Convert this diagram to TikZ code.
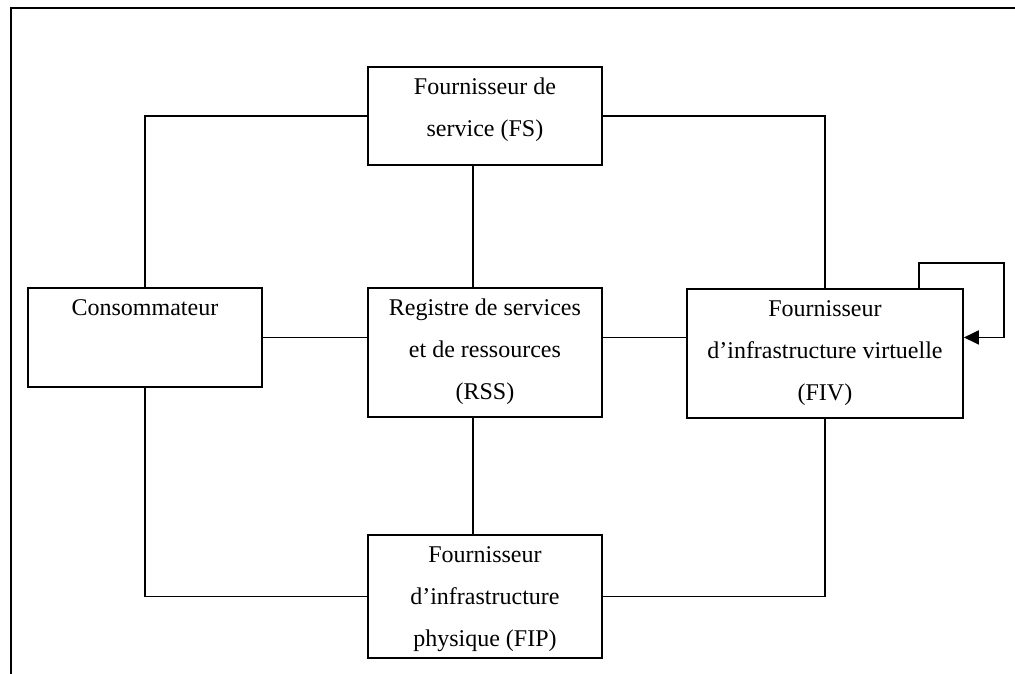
\documentclass[tikz,border=0pt]{standalone}
\usepackage{fontspec}
\setmainfont{Liberation Serif}
\usetikzlibrary{arrows.meta}

% text block of a box: lines set from the top, centred
\newcommand\boxlines[3]{\parbox[c][#2][t]{#1}{\centering\rule{0pt}{28pt}#3}}

\begin{document}
\begin{tikzpicture}[x=1pt,y=-1pt,
  font=\fontsize{24}{42}\selectfont,
  entity/.style={draw, line width=1.9pt, inner sep=0pt, anchor=north west},
  link/.style={draw, line width=1.9pt},
  frame/.style={draw, line width=2.2pt}]
\useasboundingbox (0,0) rectangle (1015,674);

% page frame: left and top rules
\draw[frame] (11,674) -- (11,8) -- (1015,8);

% actors
\node[entity] (fs)   at (367,66)  {\boxlines{234pt}{98pt}{Fournisseur de\\service (FS)}};
\node[entity] (cons) at (27,287)  {\boxlines{234pt}{99pt}{Consommateur}};
\node[entity] (rss)  at (367,287) {\boxlines{234pt}{129pt}{Registre de services\\et de ressources\\(RSS)}};
\node[entity] (fiv)  at (686,288) {\boxlines{276pt}{129pt}{Fournisseur\\d’infrastructure virtuelle\\(FIV)}};
\node[entity] (fip)  at (367,534) {\boxlines{234pt}{123pt}{Fournisseur\\d’infrastructure\\physique (FIP)}};

% helper coordinates for the central spine and the self loop
\coordinate (spine) at (473.3,0);
\coordinate (loopstart) at (919,0);
\coordinate (loopcorner) at (1004.3,262.7);

% links
\draw[link] (fs.west) -| (cons.north);
\draw[link] (fs.east) -| (fiv.north);
\draw[link] (fs.south -| spine) -- (rss.north -| spine);
\draw[link] (rss.south -| spine) -- (fip.north -| spine);
\draw[link] (cons.east) -- (cons.east -| rss.west);
\draw[link] (cons.east -| rss.east) -- (cons.east -| fiv.west);
\draw[link] (cons.south) |- (fip.west);
\draw[link] (fiv.south) |- (fip.east);

% self loop on FIV
\draw[link, -{Triangle[length=15pt,width=14pt]}]
  (fiv.north -| loopstart) |- (loopcorner) |- (cons.east -| fiv.east);
\end{tikzpicture}
\end{document}
